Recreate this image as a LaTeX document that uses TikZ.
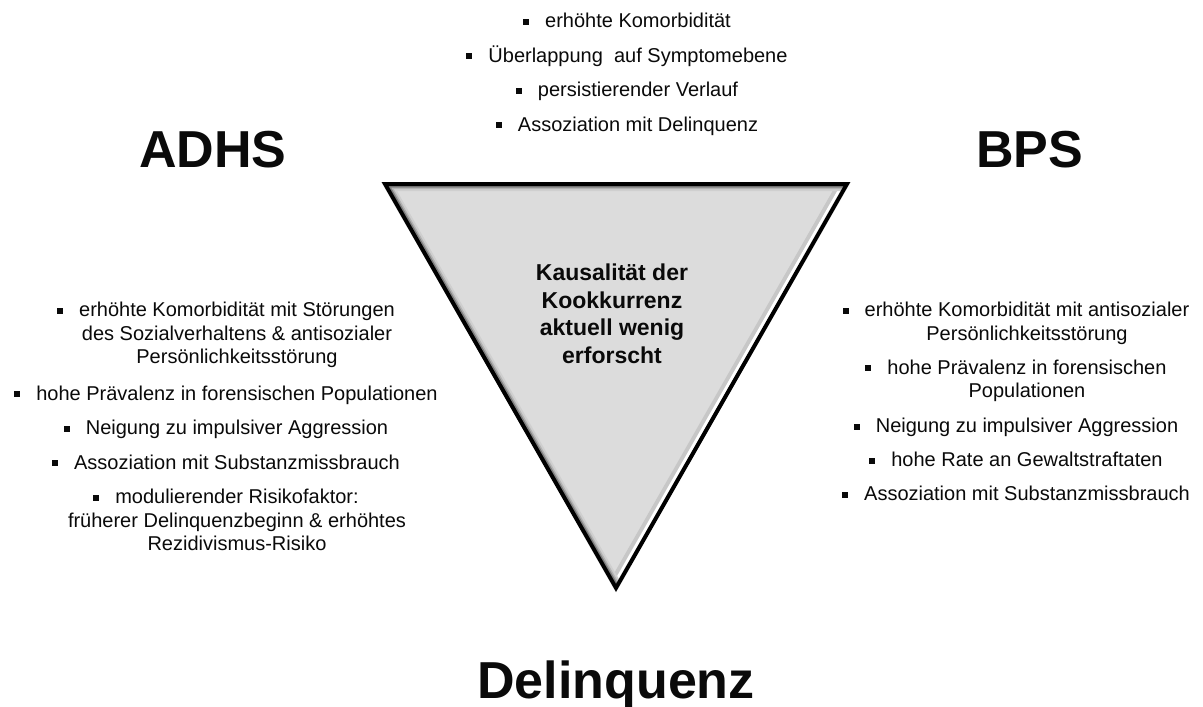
\documentclass[tikz,border=0pt]{standalone}
\usepackage{fontspec}
\setmainfont{Liberation Sans}
\newcommand\lstfont{\fontsize{20}{23.5}\selectfont}
\newcommand\ctrfont{\fontsize{23}{27.5}\selectfont\bfseries}
\newcommand\headfont{\fontsize{52}{60}\selectfont\bfseries}
\newcommand\bul{\llap{\rule[3pt]{6pt}{6pt}\hspace{16pt}}}
\newcommand\itm[1]{\begin{tabular}[t]{@{}c@{}}#1\end{tabular}}
\definecolor{trifill}{HTML}{DCDCDC}
\definecolor{txt}{HTML}{0A0A0A}
\tikzset{
  lst/.style={anchor=base, inner sep=0pt, font=\lstfont, text=txt},
  head/.style={anchor=base, inner sep=0pt, font=\headfont, text=txt},
  ctr/.style={anchor=base, inner sep=0pt, font=\ctrfont, text=txt},
}
\begin{document}
\begin{tikzpicture}[x=1pt,y=-1pt]
\useasboundingbox (0,0) rectangle (1203,707);
\fill[white] (0,0) rectangle (1203,707);
% triangle
\coordinate (A) at (385,184);
\coordinate (B) at (847,184);
\coordinate (C) at (616,588);
\begin{scope}
  \clip (A)--(B)--(C)--cycle;
  \fill[trifill] (A)--(B)--(C)--cycle;
  \draw[line width=18pt, black!22] (B)--(C);
  \draw[line width=10pt, white] (B)--(C);
  \draw[line width=14pt, black!19] (C)--(A)--(B);
  \draw[line width=10pt, black!30] (C)--(A)--(B);
  \draw[line width=7pt, black!50] (C)--(A)--(B);
\end{scope}
\draw[line width=4pt, line join=miter, black] (A)--(B)--(C)--cycle;
% headings
\node[head] (adhs) at (213,167) {ADHS};
\node[head] (bps) at (1029.5,167) {BPS};
\node[head] (del) at (616,698) {Delinquenz};
% centre text
\node[ctr] (kaus) at (612,280.7) {\itm{Kausalität der\\Kookkurrenz\\aktuell wenig\\erforscht}};
% top list
\node[lst] (t1) at (638,27.5) {\itm{\bul erhöhte Komorbidität}};
\node[lst] (t2) at (638,62) {\itm{\bul Überlappung\ \ auf Symptomebene}};
\node[lst] (t3) at (638,96.5) {\itm{\bul persistierender Verlauf}};
\node[lst] (t4) at (638,131) {\itm{\bul Assoziation mit Delinquenz}};
% left list
\node[lst] (l1) at (237,316.7) {\itm{\bul erhöhte Komorbidität mit Störungen\\des Sozialverhaltens \& antisozialer\\Persönlichkeitsstörung}};
\node[lst] (l2) at (237,400) {\itm{\bul hohe Prävalenz in forensischen Populationen}};
\node[lst] (l3) at (237,434.5) {\itm{\bul Neigung zu impulsiver Aggression}};
\node[lst] (l4) at (237,469) {\itm{\bul Assoziation mit Substanzmissbrauch}};
\node[lst] (l5) at (237,503.5) {\itm{\bul modulierender Risikofaktor:\\früherer Delinquenzbeginn \& erhöhtes\\Rezidivismus-Risiko}};
% right list
\node[lst] (r1) at (1027,316.7) {\itm{\bul erhöhte Komorbidität mit antisozialer\\Persönlichkeitsstörung}};
\node[lst] (r2) at (1027,374) {\itm{\bul hohe Prävalenz in forensischen\\Populationen}};
\node[lst] (r3) at (1027,432.7) {\itm{\bul Neigung zu impulsiver Aggression}};
\node[lst] (r4) at (1027,466.7) {\itm{\bul hohe Rate an Gewaltstraftaten}};
\node[lst] (r5) at (1027,500.7) {\itm{\bul Assoziation mit Substanzmissbrauch}};
\end{tikzpicture}
\end{document}
